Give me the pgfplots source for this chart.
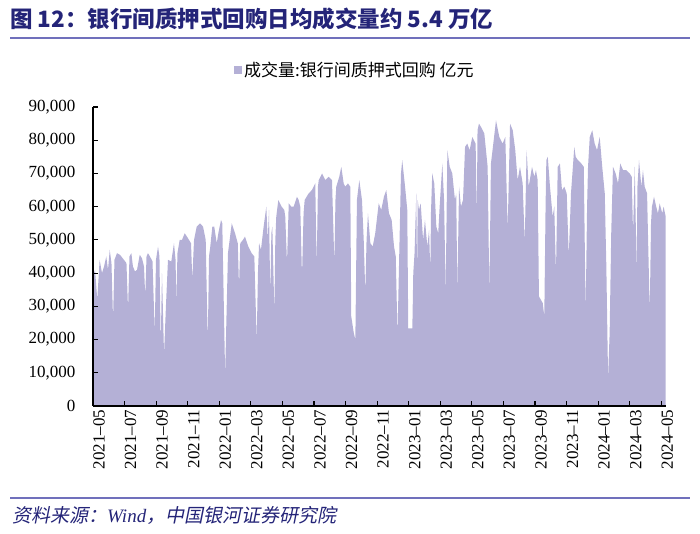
\documentclass[border=0pt]{standalone}
\usepackage{pgfplots}
\pgfplotsset{compat=1.18}
\usepackage{fontspec}
\setmainfont{Liberation Serif}
\newfontfamily\cjk{Noto Sans CJK SC}
\newfontfamily\cjksl{Noto Sans CJK SC}[FakeSlant=0.2]

\definecolor{areafill}{RGB}{180,176,214}
\definecolor{titleblue}{RGB}{36,36,120}
\definecolor{rulecol}{RGB}{112,112,188}

% daily volume, x in months from 2021-05-01, y in 亿元
\pgfplotstableread{
m vol
0.00 39000
0.13 41000
0.27 32000
0.42 44000
0.57 40000
0.70 42000
0.84 45000
0.95 41000
1.06 47000
1.17 43000
1.27 26000
1.36 44000
1.52 46000
1.71 45500
1.96 44000
2.12 43000
2.22 29000
2.31 45000
2.43 46000
2.53 42000
2.66 40500
2.79 41000
2.96 45500
3.10 44500
3.23 42000
3.31 33000
3.39 45000
3.48 46000
3.61 45000
3.77 43500
3.91 22000
3.99 44000
4.12 48000
4.21 45000
4.29 18000
4.37 40000
4.50 15500
4.62 30000
4.75 44000
4.96 43500
5.13 49000
5.23 44000
5.28 31000
5.35 46000
5.49 50000
5.64 50000
5.81 52000
5.95 51000
6.08 50000
6.21 49000
6.29 38000
6.40 50000
6.57 54000
6.78 55000
6.97 54000
7.14 50000
7.27 19000
7.35 45000
7.43 48000
7.56 54000
7.68 54000
7.84 49000
7.94 52000
8.11 56000
8.19 55000
8.37 9500
8.55 46000
8.79 55000
9.00 52000
9.17 49000
9.25 36000
9.33 49000
9.50 50000
9.63 51000
9.84 48000
10.05 46000
10.22 45000
10.37 19500
10.45 40000
10.52 49000
10.64 47000
10.81 54000
10.98 60000
11.07 50000
11.15 59000
11.23 33000
11.30 52000
11.36 54000
11.49 28000
11.55 50000
11.61 57000
11.74 62000
11.95 60000
12.12 59000
12.18 57000
12.29 43000
12.40 61000
12.56 60000
12.71 60000
12.92 63000
13.03 62000
13.13 60000
13.24 39000
13.34 58000
13.41 62000
13.66 64000
13.87 65000
14.08 67000
14.17 42000
14.25 66000
14.30 68000
14.51 70000
14.72 68000
14.93 69000
15.14 68000
15.29 43000
15.36 62000
15.41 66000
15.60 69000
15.73 72000
15.88 67000
15.98 66000
16.15 67000
16.30 66000
16.36 27000
16.52 22000
16.62 20000
16.72 62000
16.87 68000
17.04 62000
17.15 50000
17.25 34000
17.33 50000
17.42 58000
17.57 49000
17.72 48000
17.88 52000
18.10 61000
18.26 59000
18.43 63000
18.58 65000
18.75 58000
18.92 56000
19.07 48000
19.18 45000
19.29 21000
19.42 50000
19.51 70000
19.59 74000
19.77 66000
19.91 59000
19.97 23400
20.23 23400
20.29 40000
20.37 46000
20.48 64000
20.53 38000
20.57 62000
20.65 59000
20.76 61000
20.91 50000
21.03 56000
21.18 48000
21.29 53000
21.37 40000
21.41 58000
21.49 70000
21.62 67000
21.75 54000
21.87 52000
21.96 60000
22.13 73000
22.24 62000
22.34 34000
22.45 77000
22.60 72000
22.76 70000
22.93 62000
23.01 64000
23.08 34000
23.19 66000
23.31 60000
23.44 62000
23.57 78000
23.71 79000
23.86 77000
24.03 81000
24.24 79000
24.31 56000
24.36 83000
24.45 85000
24.58 84000
24.79 82000
25.00 72000
25.11 34000
25.21 73000
25.36 79000
25.53 86000
25.74 81000
25.95 79000
26.12 81000
26.27 53000
26.42 85000
26.59 83000
26.75 77000
26.90 68000
27.05 72000
27.22 67000
27.35 49000
27.47 77000
27.60 66000
27.81 72000
27.96 69000
28.06 71000
28.17 68000
28.25 33000
28.49 31000
28.59 27000
28.67 60000
28.72 74000
28.81 75000
28.95 66000
29.12 57000
29.22 60000
29.33 40000
29.44 72000
29.58 73000
29.71 65000
29.86 66000
30.01 64000
30.14 45000
30.28 64000
30.49 78000
30.58 75000
30.72 74000
30.93 73000
31.09 72000
31.21 28000
31.30 60000
31.36 72000
31.47 81000
31.63 83000
31.78 79000
31.93 77000
32.10 81000
32.26 72000
32.42 64000
32.52 42000
32.63 8500
32.73 22000
32.83 52000
32.94 72000
33.11 70000
33.26 67000
33.40 73000
33.58 71000
33.78 71000
34.00 70000
34.13 69000
34.21 52000
34.32 72000
34.44 40000
34.49 66000
34.59 74000
34.74 66000
34.84 71000
34.95 66000
35.10 64000
35.27 28000
35.35 55000
35.41 60000
35.54 63000
35.68 60000
35.79 58000
35.90 61000
36.06 58000
36.15 60000
36.28 57000
}\repo

\begin{document}
\begin{tikzpicture}
\useasboundingbox (0,0) rectangle (700pt,534pt);

% title and rules
\node[anchor=west, inner sep=0pt, text=titleblue,
      font=\cjk\bfseries\fontsize{22.5}{26}\selectfont] at (10pt,515pt)
  {图 12：银行间质押式回购日均成交量约 5.4 万亿};
\draw[rulecol, line width=2pt] (10pt,495.5pt) -- (690pt,495.5pt);
\draw[rulecol, line width=1.5pt] (10pt,36pt) -- (690pt,36pt);
\node[anchor=west, inner sep=0pt, text=titleblue,
      font=\fontsize{19}{22}\selectfont] at (12pt,19pt)
  {{\cjksl 资料来源：}{\rmfamily\itshape Wind}{\cjksl ，中国银河证券研究院}};

\begin{axis}[
  at={(93pt,128pt)}, anchor=south west,
  scale only axis, width=573pt, height=299pt,
  xmin=0, xmax=36.3, ymin=0, ymax=90000,
  axis lines*=left, axis on top,
  axis line style={black, line width=1.2pt},
  tick align=inside, major tick length=5pt,
  tick style={black, line width=1.2pt},
  xtick={0,2,...,36},
  xticklabels={2021--05,2021--07,2021--09,2021--11,2022--01,2022--03,2022--05,2022--07,2022--09,2022--11,2023--01,2023--03,2023--05,2023--07,2023--09,2023--11,2024--01,2024--03,2024--05},
  ytick={0,10000,...,90000},
  scaled y ticks=false,
  /pgf/number format/.cd, fixed, precision=0, 1000 sep={,}, assume math mode=true,
  /pgfplots/.cd,
  xticklabel style={rotate=90, anchor=east, yshift=-6pt,
                    font=\fontsize{17}{20}\selectfont},
  yticklabel style={xshift=-14pt, font=\fontsize{17}{20}\selectfont},
  legend style={at={(0.457,1.124)}, anchor=center, draw=none, fill=none,
                font=\cjk\fontsize{17}{20}\selectfont, inner sep=0pt},
  legend image code/.code={\fill[areafill] (0pt,-4pt) rectangle (8pt,4pt);},
]
\addplot[fill=areafill, draw=none] table[x=m, y=vol] {\repo} \closedcycle;
\addlegendentry{成交量:银行间质押式回购 亿元}
\end{axis}
\end{tikzpicture}
\end{document}
